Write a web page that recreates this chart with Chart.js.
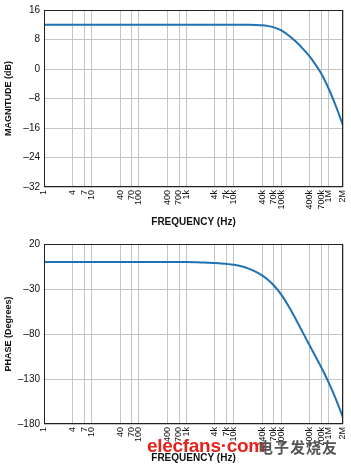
<!DOCTYPE html>
<html>
<head>
<meta charset="utf-8">
<script src="https://cdn.jsdelivr.net/npm/chart.js@4"></script>
<style>
body { margin: 0; background: #fff; width: 351px; height: 466px; overflow: hidden; position: relative; }
.box { position: absolute; left: 0; width: 351px; height: 233px; }
#wm1 { position: absolute; left: 147px; top: 435px; font: bold 19px "Liberation Sans", Arial, sans-serif; color: #e3231c; letter-spacing: -0.3px; }
#wm2 { position: absolute; left: 258px; top: 436px; font: bold 15px "Noto Sans CJK SC", sans-serif; color: #555; letter-spacing: 1px; }
</style>
</head>
<body>
<div class="box" style="top:0"><canvas id="magChart"></canvas></div>
<div class="box" style="top:233px"><canvas id="phaseChart"></canvas></div>
<div id="wm1">elecfans·com</div>
<div id="wm2">电子发烧友</div>
<script>
// values
var freqHz = [1, 10, 100, 1000, 2000, 5000, 10000, 15000, 20000, 30000, 40000, 50000, 70000, 100000,
  150000, 200000, 300000, 400000, 500000, 700000, 1000000, 1400000, 2000000];
var magnitudeDb = [12, 12, 12, 12, 12, 12, 12, 12, 12, 11.95, 11.85, 11.7, 11.3, 10.5,
  8.9, 7.5, 5.2, 3.35, 1.6, -1.3, -5.35, -9.9, -15.3];
var phaseDeg = [0, 0, 0, 0, -0.5, -1.5, -3, -4.9, -7.1, -11.2, -15.2, -18.9, -26.1, -36.3,
  -51.1, -63.1, -80.7, -93.1, -102.7, -117.3, -134, -151.8, -172.9];

var freqTicks = [1, 4, 7, 10, 40, 70, 100, 400, 700, 1000, 4000, 7000, 10000, 40000, 70000, 100000, 400000, 700000, 1000000, 2000000];
var freqLabels = ["1", "4", "7", "10", "40", "70", "100", "400", "700", "1k", "4k", "7k", "10k", "40k", "70k", "100k", "400k", "700k", "1M", "2M"];
var magTicks = [16, 8, 0, -8, -16, -24, -32];
var phaseTicks = [20, -30, -80, -130, -180];

var FONT = "'Liberation Sans', Arial, sans-serif";

var framePlugin = {
  id: "frame",
  afterDraw: function (chart) {
    var a = chart.chartArea;
    var ctx = chart.ctx;
    ctx.save();
    ctx.strokeStyle = "#222";
    ctx.lineWidth = 1;
    ctx.strokeRect(a.left + 0.5, a.top + 0.5, a.right - a.left - 1, a.bottom - a.top - 1);
    ctx.restore();
  }
};

function makeChart(id, values, yTicks, yTitle, padTop, xAxisH, titlePad) {
  var pts = freqHz.map(function (f, i) { return { x: f, y: values[i] }; });
  return new Chart(document.getElementById(id), {
    type: "line",
    data: {
      datasets: [{
        data: pts,
        borderColor: "#1f72b4",
        borderWidth: 2,
        pointRadius: 0,
        cubicInterpolationMode: "monotone",
        fill: false
      }]
    },
    options: {
      responsive: true,
      maintainAspectRatio: false,
      animation: false,
      events: [],
      layout: { padding: { top: padTop, right: 8, left: 0, bottom: 0 } },
      plugins: { legend: { display: false }, tooltip: { enabled: false } },
      scales: {
        x: {
          type: "logarithmic",
          min: 1,
          max: 2000000,
          afterBuildTicks: function (s) {
            s.ticks = freqTicks.map(function (v) { return { value: v }; });
          },
          afterFit: function (s) {
            s.height = xAxisH;
            s.paddingLeft = 0;
            s.paddingRight = 0;
          },
          ticks: {
            autoSkip: false,
            minRotation: 90,
            maxRotation: 90,
            padding: 3,
            color: "#111",
            font: { family: FONT, size: 9 },
            callback: function (v, i) { return freqLabels[i]; }
          },
          grid: { color: "#c4c4c4", drawTicks: false },
          border: { display: false },
          title: {
            display: true,
            text: "FREQUENCY (Hz)",
            color: "#111",
            font: { family: FONT, size: 10, weight: "bold" },
            padding: { top: 0, bottom: titlePad }
          }
        },
        y: {
          min: yTicks[yTicks.length - 1],
          max: yTicks[0],
          afterBuildTicks: function (s) {
            s.ticks = yTicks.map(function (v) { return { value: v }; });
          },
          afterFit: function (s) { s.width = 44; },
          ticks: {
            padding: 4,
            color: "#111",
            font: { family: FONT, size: 10 },
            callback: function (v) { return String(v).replace("-", "\u2013"); }
          },
          grid: { color: "#c4c4c4", drawTicks: false },
          border: { display: false },
          title: {
            display: true,
            text: yTitle,
            color: "#111",
            font: { family: FONT, size: 9, weight: "bold" },
            padding: { top: 3, bottom: 0 }
          }
        }
      }
    },
    plugins: [framePlugin]
  });
}

makeChart("magChart", magnitudeDb, magTicks, "MAGNITUDE (dB)", 8, 46, 5);
makeChart("phaseChart", phaseDeg, phaseTicks, "PHASE (Degrees)", 11, 42, 2);
</script>
</body>
</html>
